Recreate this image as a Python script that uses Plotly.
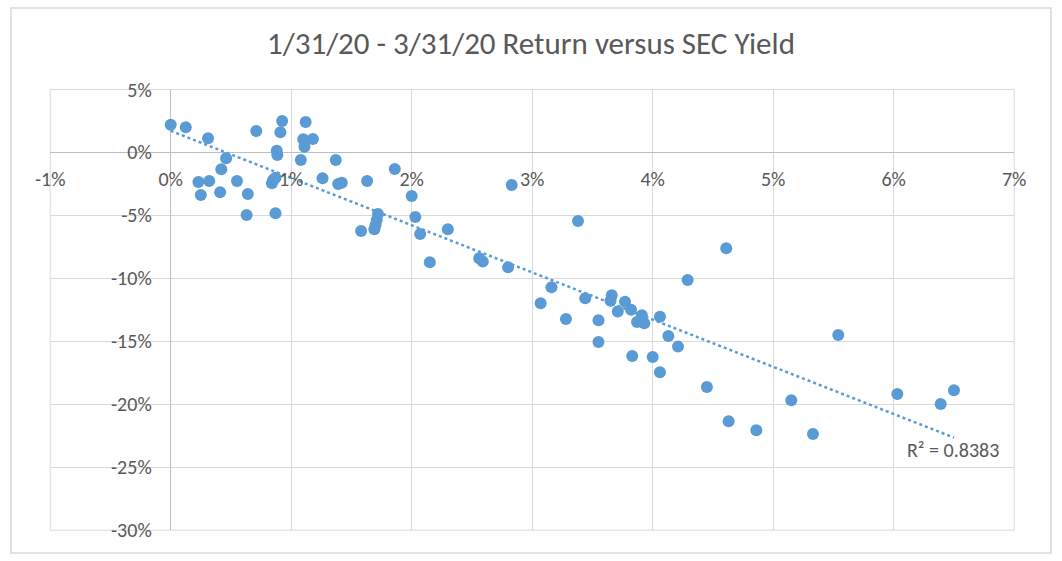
import numpy as np
import plotly.graph_objects as go

# SEC yield (%) and return (%) per fund
sec_yield = [0.0, 0.125, 0.31, 0.71, 0.925, 0.91, 1.12, 1.10, 1.18, 1.11,
             0.88, 0.885, 0.46, 1.08, 1.37, 0.42, 1.86, 0.23, 0.32, 0.55,
             0.85, 0.84, 0.87, 1.26, 1.39, 1.42, 1.63, 0.25, 0.41, 0.64,
             2.0, 0.63, 0.87, 2.03, 1.72, 1.71, 1.70, 1.69, 1.58, 2.07,
             2.83, 2.30, 2.15, 3.38, 2.56, 2.59, 2.80, 4.29, 3.16, 3.07,
             3.44, 3.66, 3.65, 3.77, 3.71, 3.82, 3.91, 3.87, 3.93, 4.06,
             3.28, 3.55, 4.13, 4.21, 3.55, 3.83, 4.00, 4.06, 4.61, 4.45,
             5.15, 4.63, 4.86, 5.54, 5.33, 6.03, 6.39, 6.50]
returns = [2.2, 2.0, 1.13, 1.7, 2.5, 1.6, 2.42, 1.05, 1.07, 0.46,
           0.14, -0.2, -0.46, -0.6, -0.6, -1.33, -1.31, -2.34, -2.26, -2.26,
           -2.18, -2.45, -2.0, -2.05, -2.5, -2.4, -2.26, -3.38, -3.16, -3.3,
           -3.45, -4.96, -4.83, -5.12, -4.88, -5.36, -5.76, -6.1, -6.24, -6.47,
           -2.58, -6.1, -8.72, -5.44, -8.4, -8.67, -9.12, -10.13, -10.7, -11.98,
           -11.58, -11.34, -11.77, -11.85, -12.64, -12.5, -12.93, -13.46, -13.57, -13.04,
           -13.22, -13.33, -14.58, -15.42, -15.05, -16.16, -16.24, -17.46, -7.6, -18.63,
           -19.68, -21.35, -22.07, -14.5, -22.36, -19.18, -19.98, -18.89]

title_text = "1/31/20 - 3/31/20 Return versus SEC Yield"
r2_text = "R² = 0.8383"
x_ticks = [-1, 0, 1, 2, 3, 4, 5, 6, 7]
y_ticks = [5, 0, -5, -10, -15, -20, -25, -30]

x = np.array(sec_yield) / 100
y = np.array(returns) / 100
slope, intercept = np.polyfit(x, y, 1)
tx = np.array([x.min(), x.max()])
ty = slope * tx + intercept

W, H = 1062, 561
FONT = "Carlito, Liberation Sans Narrow, Open Sans, sans-serif"
blue = "#5b9bd5"
grey_txt = "#595959"

fig = go.Figure()
fig.add_trace(go.Scatter(x=tx, y=ty, mode="lines",
                         line=dict(color=blue, width=2.5, dash="dot"),
                         hoverinfo="skip", showlegend=False))
fig.add_trace(go.Scatter(x=x, y=y, mode="markers",
                         marker=dict(color=blue, size=12, line=dict(width=0)),
                         showlegend=False))

px_left, px_right = 50.2, 1014.2
py_top, py_bot = 89.5, 530.2
xd = [px_left / W, px_right / W]
yd = [1 - py_bot / H, 1 - py_top / H]
x0_paper = xd[0] + (xd[1] - xd[0]) * (0 - (-0.01)) / 0.08
y0_paper = yd[0] + (yd[1] - yd[0]) * (0 - (-0.30)) / 0.35

fig.update_layout(
    template="none",
    width=W, height=H,
    margin=dict(l=0, r=0, t=0, b=0, pad=0, autoexpand=False),
    paper_bgcolor="white", plot_bgcolor="white",
    font=dict(family=FONT, color=grey_txt, size=20),
    title=dict(text=title_text, x=0.5, xanchor="center", y=1 - 43.5 / H, yanchor="middle",
               xref="paper", yref="paper",
               font=dict(family=FONT, size=31, color=grey_txt)),
    xaxis=dict(domain=xd, range=[-0.01, 0.07], tickvals=[v / 100 for v in x_ticks],
               ticktext=[f"{v}%" for v in x_ticks], automargin=False,
               showgrid=True, gridcolor="#d9d9d9", gridwidth=1,
               zeroline=True, zerolinecolor="#bfbfbf", zerolinewidth=1,
               anchor="free", position=y0_paper, showline=False, ticks="",
               ticklabelstandoff=13, tickfont=dict(size=20, color=grey_txt)),
    yaxis=dict(domain=yd, range=[-0.30, 0.05], tickvals=[v / 100 for v in y_ticks],
               ticktext=[f"{v}%" for v in y_ticks], automargin=False,
               showgrid=True, gridcolor="#d9d9d9", gridwidth=1,
               zeroline=True, zerolinecolor="#bfbfbf", zerolinewidth=1,
               anchor="free", position=x0_paper, showline=False, ticks="",
               ticklabelstandoff=19, tickfont=dict(size=20, color=grey_txt)),
    shapes=[dict(type="rect", xref="paper", yref="paper",
                 x0=11 / W, x1=1051 / W, y0=1 - 553 / H, y1=1 - 8 / H,
                 line=dict(color="#d9d9d9", width=1.5), fillcolor="rgba(0,0,0,0)"),
            dict(type="rect", xref="x domain", yref="y domain",
                 x0=0, x1=1, y0=0, y1=1, layer="below",
                 line=dict(color="#d9d9d9", width=1), fillcolor="rgba(0,0,0,0)")],
    annotations=[dict(text=r2_text, xref="paper", yref="paper",
                      x=952.5 / W, y=1 - 450 / H, xanchor="center", yanchor="middle",
                      showarrow=False, font=dict(family=FONT, size=20, color=grey_txt))],
)

fig.write_html("out.html", config={"displayModeBar": False},
               post_script="document.body.style.margin='0px';")
